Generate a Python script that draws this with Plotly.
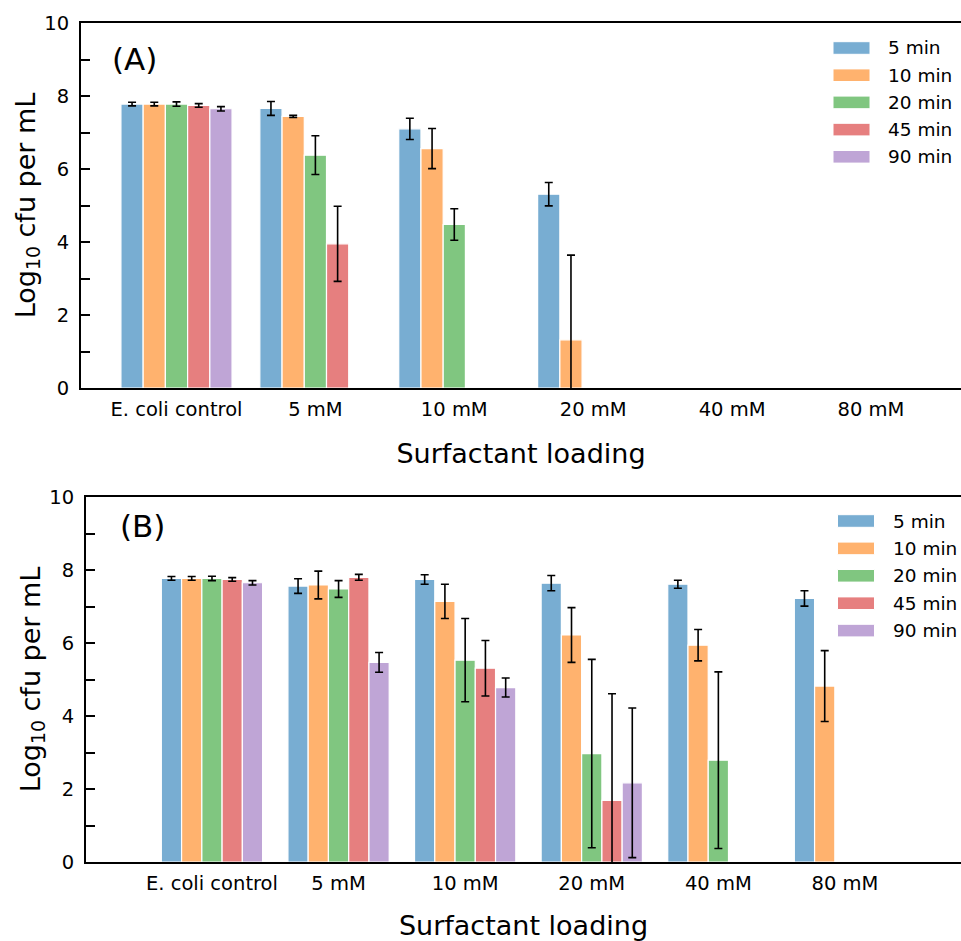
import plotly.graph_objects as go

categories = ["E. coli control", "5 mM", "10 mM", "20 mM", "40 mM", "80 mM"]
times = ["5 min", "10 min", "20 min", "45 min", "90 min"]
colors = ["#78add2", "#ffb26e", "#80c680", "#e67f7f", "#bfa5d6"]

# Panel A values (one list per exposure time, across categories)
a_5 = [7.78, 7.66, 7.10, 5.31, None, None]
a_10 = [7.78, 7.44, 6.56, 1.32, None, None]
a_20 = [7.78, 6.38, 4.48, None, None, None]
a_45 = [7.74, 3.95, None, None, None, None]
a_90 = [7.65, None, None, None, None, None]
a_5_err = [0.05, 0.19, 0.29, 0.32, None, None]
a_10_err = [0.05, 0.03, 0.55, 2.32, None, None]
a_20_err = [0.06, 0.53, 0.43, None, None, None]
a_45_err = [0.05, 1.03, None, None, None, None]
a_90_err = [0.06, None, None, None, None, None]

# Panel B values
b_5 = [7.77, 7.56, 7.74, 7.64, 7.61, 7.22]
b_10 = [7.77, 7.59, 7.14, 6.22, 5.94, 4.82]
b_20 = [7.77, 7.48, 5.53, 2.97, 2.79, None]
b_45 = [7.74, 7.80, 5.31, 1.69, None, None]
b_90 = [7.65, 5.47, 4.78, 2.17, None, None]
b_5_err = [0.05, 0.20, 0.13, 0.21, 0.11, 0.21]
b_10_err = [0.05, 0.38, 0.47, 0.75, 0.43, 0.97]
b_20_err = [0.06, 0.23, 1.14, 2.58, 2.42, None]
b_45_err = [0.05, 0.08, 0.76, 2.92, None, None]
b_90_err = [0.06, 0.27, 0.26, 2.05, None, None]

y_ticks = [0, 2, 4, 6, 8, 10]

panel_a = [a_5, a_10, a_20, a_45, a_90]
panel_a_err = [a_5_err, a_10_err, a_20_err, a_45_err, a_90_err]
panel_b = [b_5, b_10, b_20, b_45, b_90]
panel_b_err = [b_5_err, b_10_err, b_20_err, b_45_err, b_90_err]

# the page's default body margin is removed (post_script), so the figure fills the window
OFF = 0
W, H = 961, 941
FONT = "DejaVu Sans"
xpos = list(range(len(categories)))


def px(x):
    return (x - OFF) / W


def py(y):
    return 1 - (y - OFF) / H


fig = go.Figure()
for vals, errs, name, col in zip(panel_a, panel_a_err, times, colors):
    fig.add_trace(go.Bar(
        x=xpos, y=vals, name=name, marker=dict(color=col, line=dict(color="white", width=1.2)),
        error_y=dict(type="data", array=errs, color="black", thickness=1.6, width=4),
        xaxis="x", yaxis="y", showlegend=False))
for vals, errs, name, col in zip(panel_b, panel_b_err, times, colors):
    fig.add_trace(go.Bar(
        x=xpos, y=vals, name=name, marker=dict(color=col, line=dict(color="white", width=1.2)),
        error_y=dict(type="data", array=errs, color="black", thickness=1.6, width=4),
        xaxis="x2", yaxis="y2", showlegend=False))

axis_common = dict(showline=True, linecolor="black", linewidth=2, showgrid=False, zeroline=False,
                   automargin=False)
xcommon = dict(axis_common, tickmode="array", tickvals=xpos, ticktext=categories, ticks="",
               mirror=True, tickfont=dict(size=19.5, color="black", family=FONT),
               ticklabelstandoff=3,
               title=dict(text="Surfactant loading", font=dict(size=27, color="black", family=FONT), standoff=24))
ycommon = dict(axis_common, range=[0, 10], tickmode="array", tickvals=y_ticks, ticks="inside",
               ticklen=9, tickwidth=1.6, tickcolor="black",
               minor=dict(dtick=1, ticks="inside", ticklen=9, tickwidth=1.6, tickcolor="black"),
               tickfont=dict(size=19.5, color="black", family=FONT), ticklabelstandoff=6,
               title=dict(text="Log<sub>10</sub> cfu per mL", font=dict(size=27, color="black", family=FONT), standoff=1))

x1_unit = 138.9
x2_unit = 126.6
fig.update_layout(
    width=W, height=H, margin=dict(l=0, r=0, t=0, b=0, autoexpand=False),
    paper_bgcolor="white", plot_bgcolor="white", template="none",
    barmode="group", bargap=0.2, bargroupgap=0,
    font=dict(family=FONT, color="black"),
    xaxis=dict(xcommon, domain=[px(81), 1], range=[-0.6875, -0.6875 + (961 - 81) / x1_unit], anchor="y"),
    yaxis=dict(ycommon, domain=[py(388), py(23)], anchor="x"),
    xaxis2=dict(xcommon, domain=[px(86), 1], range=[-0.995, -0.995 + (961 - 86) / x2_unit], anchor="y2"),
    yaxis2=dict(ycommon, domain=[py(862), py(497)], anchor="x2"),
)

# Custom legends (wide swatches like the reference)
shapes = []
annotations = []
for (sx0, sx1, tx, ry0, rdy) in [(833, 870, 886, 48, 27.2), (837.5, 874.5, 891, 521, 27.4)]:
    for i, (name, col) in enumerate(zip(times, colors)):
        cy = ry0 + i * rdy
        shapes.append(dict(type="rect", xref="paper", yref="paper",
                           x0=px(sx0), x1=px(sx1), y0=py(cy - 6.3), y1=py(cy + 6.3),
                           fillcolor=col, line=dict(color="white", width=1)))
        annotations.append(dict(xref="paper", yref="paper", x=px(tx), y=py(cy), text=name,
                                showarrow=False, xanchor="left", yanchor="middle",
                                font=dict(size=18.5, color="black", family=FONT)))

annotations.append(dict(xref="paper", yref="paper", x=px(134), y=py(59), text="(A)", showarrow=False,
                        xanchor="center", yanchor="middle", font=dict(size=31, color="black", family=FONT)))
annotations.append(dict(xref="paper", yref="paper", x=px(142), y=py(526), text="(B)", showarrow=False,
                        xanchor="center", yanchor="middle", font=dict(size=31, color="black", family=FONT)))

fig.update_layout(shapes=shapes, annotations=annotations)
fig.write_html("out.html", config={"displayModeBar": False},
               post_script="document.body.style.margin='0px';")
